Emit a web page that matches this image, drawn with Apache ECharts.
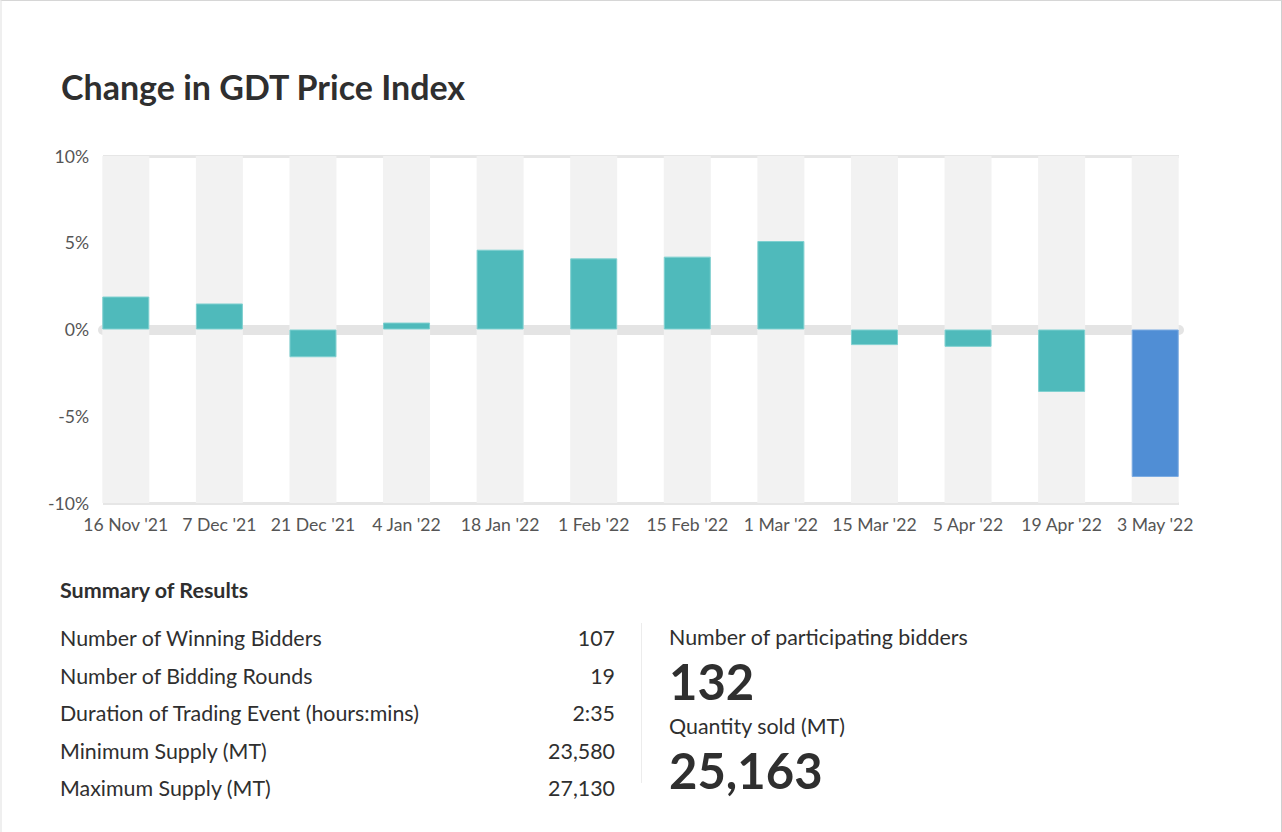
<!DOCTYPE html>
<html>
<head>
<meta charset="utf-8">
<script src="https://cdn.jsdelivr.net/npm/echarts@6/dist/echarts.min.js"></script>
<style>
  html, body { margin: 0; padding: 0; background: #ffffff; }
  #wrap { position: relative; width: 1282px; height: 832px; overflow: hidden; }
  #chart { position: absolute; left: 0; top: 0; width: 1282px; height: 832px; }
  #frame { position: absolute; left: 0; top: 0; width: 1282px; height: 832px; box-sizing: border-box;
           border-top: 1px solid #d6d6d6; border-left: 2px solid #efefef; border-right: 1px solid #cfcfcf;
           pointer-events: none; }
</style>
</head>
<body>
<div id="wrap"><div id="chart"></div><div id="frame"></div></div>
<script>
// ---- data ----
const chartTitle = "Change in GDT Price Index";
const categories = ["16 Nov '21", "7 Dec '21", "21 Dec '21", "4 Jan '22", "18 Jan '22", "1 Feb '22",
                    "15 Feb '22", "1 Mar '22", "15 Mar '22", "5 Apr '22", "19 Apr '22", "3 May '22"];
const changes = [1.9, 1.5, -1.6, 0.4, 4.6, 4.1, 4.2, 5.1, -0.9, -1.0, -3.6, -8.5];
const yMin = -10, yMax = 10, yStep = 5;
const summaryHeading = "Summary of Results";
const summaryLabels = ["Number of Winning Bidders", "Number of Bidding Rounds",
                       "Duration of Trading Event (hours:mins)", "Minimum Supply (MT)", "Maximum Supply (MT)"];
const summaryValues = ["107", "19", "2:35", "23,580", "27,130"];
const keyLabels = ["Number of participating bidders", "Quantity sold (MT)"];
const keyValues = ["132", "25,163"];

// ---- styles ----
const FONT = "Lato, 'Noto Sans', sans-serif";
const TEAL = "#4fbabb", TEAL_BORDER = "#7fd0d0";
const BLUE = "#508ed5", BLUE_BORDER = "#7aaae2";
const DARK = "#2f2f2f";
const AXIS_FS = 17.6, TEXT_FS = 21.4;

const chart = echarts.init(document.getElementById('chart'), null, { renderer: 'svg' });

const graphics = [];
graphics.push({ type: 'text', x: 61, y: 86,
  style: { text: chartTitle, fontFamily: FONT, fontSize: 34, fontWeight: 'bold', fill: DARK, align: 'left', verticalAlign: 'middle' } });
graphics.push({ type: 'text', x: 60, y: 590,
  style: { text: summaryHeading, fontFamily: FONT, fontSize: 21.5, fontWeight: 'bold', fill: DARK, align: 'left', verticalAlign: 'middle' } });
summaryLabels.forEach(function (lab, i) {
  const y = 638 + i * 37.5;
  graphics.push({ type: 'text', x: 60, y: y,
    style: { text: lab, fontFamily: FONT, fontSize: TEXT_FS, fill: DARK, align: 'left', verticalAlign: 'middle' } });
  graphics.push({ type: 'text', x: 615, y: y,
    style: { text: summaryValues[i], fontFamily: FONT, fontSize: TEXT_FS, fill: DARK, align: 'right', verticalAlign: 'middle' } });
});
graphics.push({ type: 'line', shape: { x1: 641.5, y1: 623, x2: 641.5, y2: 783 }, style: { stroke: '#ececec', lineWidth: 1 } });
keyLabels.forEach(function (lab, i) {
  const y0 = 637 + i * 89;
  graphics.push({ type: 'text', x: 669, y: y0,
    style: { text: lab, fontFamily: FONT, fontSize: TEXT_FS, fill: DARK, align: 'left', verticalAlign: 'middle' } });
  graphics.push({ type: 'text', x: 669, y: y0 + 44,
    style: { text: keyValues[i], fontFamily: FONT, fontSize: 49, fontWeight: 'bold', fill: DARK, align: 'left', verticalAlign: 'middle' } });
});

const lastIdx = changes.length - 1;
const barData = changes.map(function (v, i) {
  return i === lastIdx
    ? { value: v, itemStyle: { color: BLUE, borderColor: BLUE_BORDER } }
    : { value: v, itemStyle: { color: TEAL, borderColor: TEAL_BORDER } };
});

chart.setOption({
  backgroundColor: '#ffffff',
  animation: false,
  graphic: graphics,
  grid: [
    { left: 103, right: 103, top: 156, bottom: 329 },
    { left: 79, right: 80, top: 156, bottom: 329 }
  ],
  xAxis: [
    { type: 'category', gridIndex: 0, data: categories,
      axisLine: { show: true, onZero: true, onZeroAxisIndex: 0, lineStyle: { color: '#e4e4e4', width: 10 } },
      axisTick: { show: false }, axisLabel: { show: false }, splitLine: { show: false } },
    { type: 'category', gridIndex: 1, data: categories,
      axisLine: { show: false }, axisTick: { show: false }, splitLine: { show: false },
      axisLabel: { show: true, interval: 0, margin: 12, color: '#555555', fontFamily: FONT, fontSize: AXIS_FS } }
  ],
  yAxis: [
    { type: 'value', gridIndex: 0, position: 'left', min: yMin, max: yMax, interval: yMax,
      axisLine: { show: false }, axisTick: { show: false }, axisLabel: { show: false },
      splitLine: { show: true, lineStyle: { color: '#e6e6e6', width: 3 } } },
    { type: 'value', gridIndex: 0, position: 'left', offset: 0, min: yMin, max: yMax, interval: yStep,
      axisLine: { show: false }, axisTick: { show: false }, splitLine: { show: false },
      axisLabel: { show: true, margin: 14, color: '#555555', fontFamily: FONT, fontSize: AXIS_FS,
                   formatter: function (v) { return v + '%'; } } },
    { type: 'value', gridIndex: 1, position: 'left', min: yMin, max: yMax, interval: yStep, show: false,
      splitLine: { show: false } }
  ],
  series: [
    { type: 'bar', xAxisIndex: 1, yAxisIndex: 2, barWidth: 47, z: 3,
      data: barData,
      showBackground: true,
      backgroundStyle: { color: '#f2f2f2' },
      itemStyle: { borderWidth: 1 },
      silent: true }
  ]
});
</script>
</body>
</html>
